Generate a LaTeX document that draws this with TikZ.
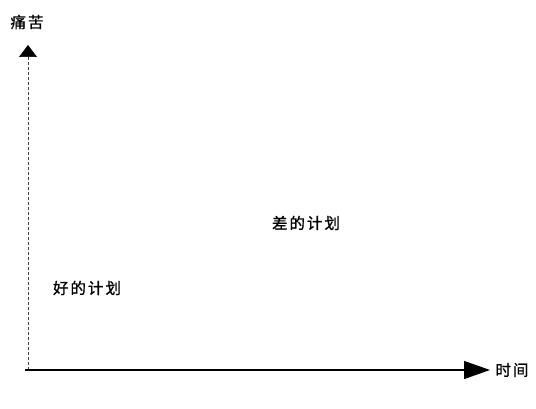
\documentclass[tikz,border=0pt]{standalone}
\usepackage{fontspec}
\newfontfamily\cjk[FakeBold=1]{Noto Sans CJK SC}
\usetikzlibrary{arrows.meta}
\newcommand{\gap}{\hspace{2pt}}
\begin{document}
\begin{tikzpicture}[x=1pt,y=1pt,
  lbl/.style={font=\cjk\fontsize{15.5}{18}\selectfont, inner sep=0pt, text=black},
  yaxis/.style={draw=black!75, line width=0.6pt, dash pattern=on 3pt off 2pt, -{Triangle[length=12pt,width=18pt,fill=black,color=black]}},
  xaxis/.style={draw=black, line width=1.4pt, -{Triangle[length=26pt,width=18pt]}}]
\useasboundingbox (0,0) rectangle (536,408);
\coordinate (o) at (28,38);
\coordinate (ytip) at (28,363);
\coordinate (xo) at (25,38);
\coordinate (xtip) at (490,38);
\draw[yaxis] (o) -- (ytip);
\draw[xaxis] (xo) -- (xtip);
\node[lbl] (ylab) at (27,386) {痛\gap 苦};
\node[lbl] (xlab) at (512,38) {时\gap 间};
\node[lbl] (bad) at (306,185) {差\gap 的\gap 计\gap 划};
\node[lbl] (good) at (87,120) {好\gap 的\gap 计\gap 划};
\end{tikzpicture}
\end{document}
